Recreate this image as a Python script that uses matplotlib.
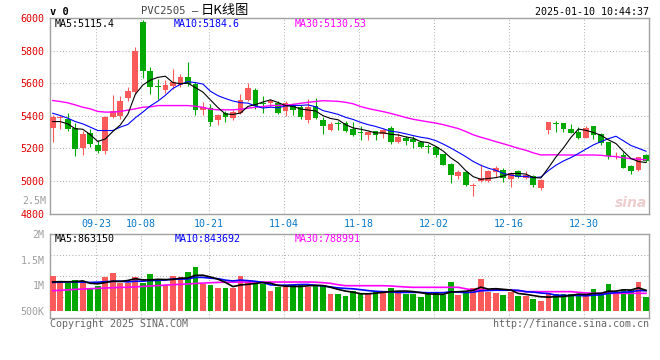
import numpy as np
import matplotlib
matplotlib.use('Agg')
import matplotlib.pyplot as plt

# 字体：等宽数字 + 中文回退
plt.rcParams['font.family'] = ['DejaVu Sans Mono', 'Noto Sans CJK SC']

tick_idx = [6, 12, 21, 31, 41, 51, 61, 71]
tick_lab = ['09-23', '10-08', '10-21', '11-04', '11-18', '12-02', '12-16', '12-30']

opens = [5325, 5385, 5382, 5325, 5202, 5294, 5219, 5184, 5392, 5398,
         5508, 5545, 5973, 5678, 5580, 5561, 5586, 5590, 5637, 5596,
         5437, 5447, 5372, 5420, 5384, 5416, 5498, 5559, 5478, 5478,
         5478, 5427, 5461, 5457, 5376, 5461, 5376, 5314, 5357, 5355,
         5322, 5302, 5283, 5308, 5287, 5324, 5240, 5267, 5256, 5240,
         5215, 5209, 5164, 5102, 5034, 5053, 4969, 4998, 4998, 5055,
         5068, 5015, 5062, 5021, 5031, 4955, 5314, 5355, 5359, 5320,
         5302, 5267, 5338, 5287, 5242, 5146, 5160, 5092, 5068, 5160]
highs = [5405, 5405, 5418, 5357, 5310, 5320, 5249, 5402, 5525, 5520,
         5576, 5825, 5986, 5698, 5627, 5617, 5688, 5657, 5729, 5606,
         5484, 5474, 5412, 5427, 5433, 5531, 5604, 5569, 5522, 5502,
         5490, 5488, 5478, 5467, 5506, 5508, 5396, 5365, 5369, 5371,
         5365, 5338, 5308, 5310, 5318, 5338, 5297, 5277, 5277, 5246,
         5226, 5215, 5164, 5108, 5071, 5061, 4988, 5102, 5065, 5092,
         5078, 5058, 5068, 5064, 5037, 5010, 5363, 5369, 5359, 5351,
         5334, 5338, 5338, 5297, 5242, 5181, 5181, 5096, 5150, 5166]
lows = [5240, 5320, 5310, 5153, 5157, 5208, 5174, 5168, 5388, 5382,
        5488, 5535, 5631, 5535, 5504, 5541, 5565, 5576, 5586, 5406,
        5406, 5335, 5341, 5365, 5372, 5412, 5488, 5441, 5420, 5457,
        5410, 5400, 5406, 5380, 5355, 5380, 5290, 5308, 5314, 5304,
        5277, 5252, 5252, 5252, 5262, 5226, 5232, 5219, 5205, 5205,
        5174, 5149, 5096, 4986, 5010, 4969, 4910, 4992, 4992, 5026,
        4996, 4965, 5017, 5010, 4961, 4945, 5287, 5304, 5304, 5297,
        5256, 5263, 5256, 5222, 5133, 5133, 5078, 5043, 5064, 5119]
closes = [5392, 5392, 5320, 5198, 5286, 5229, 5184, 5392, 5427, 5488,
          5555, 5800, 5674, 5576, 5574, 5592, 5606, 5637, 5596, 5433,
          5457, 5365, 5406, 5392, 5423, 5498, 5571, 5461, 5472, 5488,
          5416, 5478, 5437, 5392, 5457, 5386, 5335, 5351, 5351, 5308,
          5283, 5295, 5304, 5283, 5314, 5240, 5273, 5246, 5240, 5209,
          5211, 5160, 5098, 5036, 5053, 4973, 4973, 5018, 5061, 5081,
          5021, 5051, 5023, 5037, 4976, 5006, 5363, 5351, 5318, 5297,
          5267, 5324, 5283, 5236, 5154, 5154, 5082, 5064, 5146, 5123]

ma5 = [5365, 5365, 5351, 5321, 5318, 5285, 5243, 5258, 5304, 5344,
       5409, 5532, 5589, 5619, 5636, 5643, 5604, 5597, 5601, 5573,
       5546, 5498, 5451, 5411, 5409, 5417, 5458, 5469, 5485, 5498,
       5482, 5463, 5458, 5442, 5436, 5430, 5401, 5384, 5376, 5346,
       5326, 5318, 5308, 5295, 5296, 5287, 5283, 5271, 5263, 5242,
       5236, 5213, 5184, 5143, 5112, 5064, 5027, 5011, 5016, 5021,
       5031, 5046, 5047, 5043, 5022, 5019, 5081, 5147, 5203, 5267,
       5319, 5311, 5298, 5281, 5253, 5230, 5182, 5138, 5120, 5114]
ma10 = [5416, 5402, 5386, 5365, 5351, 5331, 5310, 5310, 5310, 5331,
        5347, 5388, 5423, 5461, 5490, 5526, 5568, 5593, 5610, 5604,
        5595, 5551, 5524, 5506, 5491, 5481, 5478, 5460, 5448, 5453,
        5449, 5461, 5464, 5464, 5467, 5456, 5432, 5421, 5409, 5391,
        5378, 5360, 5346, 5335, 5321, 5306, 5300, 5290, 5279, 5269,
        5262, 5248, 5227, 5203, 5177, 5150, 5120, 5097, 5079, 5066,
        5047, 5037, 5029, 5029, 5021, 5025, 5064, 5097, 5123, 5144,
        5169, 5196, 5222, 5242, 5260, 5275, 5247, 5218, 5201, 5183]
ma30 = [5494, 5488, 5480, 5467, 5453, 5443, 5427, 5423, 5423, 5427,
        5435, 5443, 5453, 5455, 5463, 5463, 5463, 5463, 5463, 5459,
        5452, 5441, 5437, 5437, 5437, 5441, 5447, 5453, 5457, 5463,
        5464, 5466, 5470, 5477, 5483, 5488, 5493, 5491, 5489, 5483,
        5474, 5457, 5445, 5435, 5426, 5415, 5403, 5390, 5379, 5371,
        5363, 5356, 5346, 5334, 5322, 5304, 5284, 5269, 5256, 5242,
        5229, 5215, 5201, 5189, 5173, 5160, 5161, 5161, 5160, 5160,
        5159, 5160, 5160, 5158, 5153, 5150, 5143, 5137, 5134, 5131]

# 成交量（千手）
vol = [1181, 1037, 1037, 1103, 1070, 939, 991, 1162, 1240, 1037,
       1037, 1162, 1050, 1227, 1103, 1011, 1181, 1162, 1260, 1358,
       1024, 1005, 946, 946, 946, 1181, 1070, 1037, 1024, 893,
       958, 1005, 998, 1024, 958, 998, 985, 828, 828, 788,
       886, 834, 821, 886, 880, 952, 880, 834, 834, 775,
       821, 860, 814, 1063, 808, 867, 952, 1122, 873, 847,
       808, 873, 788, 788, 729, 690, 841, 821, 821, 821,
       821, 795, 926, 847, 1024, 828, 926, 906, 1063, 775]
vol_ma5 = [1065, 1070, 1068, 1070, 1086, 1037, 1028, 1053, 1080, 1074,
           1093, 1128, 1105, 1103, 1116, 1111, 1114, 1137, 1143, 1194,
           1197, 1162, 1119, 1056, 973, 1005, 1018, 1036, 1052, 1041,
           996, 983, 976, 976, 989, 997, 993, 959, 919, 885,
           863, 833, 831, 843, 861, 875, 884, 886, 876, 855,
           829, 825, 821, 867, 873, 882, 901, 962, 924, 932,
           920, 905, 838, 821, 797, 774, 767, 774, 780, 799,
           825, 816, 837, 842, 883, 884, 910, 906, 949, 900]
vol_ma10 = [1056, 1060, 1065, 1065, 1060, 1055, 1060, 1070, 1075, 1080,
            1065, 1078, 1079, 1092, 1095, 1102, 1121, 1121, 1123, 1155,
            1154, 1138, 1128, 1100, 1084, 1101, 1090, 1077, 1054, 1007,
            1001, 1001, 1006, 1014, 1015, 997, 988, 967, 948, 937,
            930, 913, 895, 881, 873, 869, 858, 859, 860, 858,
            852, 854, 854, 871, 864, 856, 863, 892, 896, 903,
            901, 903, 900, 873, 865, 847, 836, 806, 801, 798,
            799, 792, 805, 811, 841, 855, 863, 872, 896, 891]
vol_ma30 = [893, 900, 910, 919, 925, 932, 939, 945, 952, 957,
            960, 968, 977, 985, 993, 1002, 1011, 1018, 1026, 1034,
            1042, 1050, 1055, 1058, 1060, 1063, 1063, 1063, 1063, 1063,
            1063, 1063, 1063, 1063, 1063, 1060, 1050, 1037, 1010, 991,
            991, 991, 991, 991, 991, 985, 975, 965, 959, 959,
            959, 959, 959, 959, 959, 930, 906, 906, 906, 906,
            906, 906, 890, 874, 874, 874, 874, 874, 874, 874,
            860, 850, 841, 841, 841, 841, 841, 841, 841, 841]

RED = '#fa5a5a'
GREEN = '#00a800'
GRID = '#b4b4b4'
SPINE = '#a0a0a0'
W, H = 660, 360

x = np.arange(len(closes))
o = np.array(opens); c = np.array(closes)
up = c >= o
cols = np.where(up, RED, GREEN)

fig = plt.figure(figsize=(6.6, 3.6), dpi=100)
ax = fig.add_axes([50 / W, 1 - 213.7 / H, 599 / W, 195.7 / H])
ax2 = fig.add_axes([50 / W, 1 - 318.3 / H, 599 / W, 84 / H])

def ftext(px, py, s, **kw):
    fig.text(px / W, 1 - py / H, s, **kw)

grid_x = [i - 0.25 for i in tick_idx]

# 主图：K线
body = np.abs(c - o)
body = np.where(body < 4, 4, body)
ax.vlines(x, lows, highs, colors=cols, lw=0.8, zorder=2)
ax.bar(x, body, bottom=np.minimum(o, c), width=0.76, color=cols, lw=0, zorder=3)
ax.plot(x, ma30, color='#ff00ff', lw=1.0, zorder=4)
ax.plot(x, ma10, color='#0000ff', lw=0.8, zorder=4)
ax.plot(x, ma5, color='black', lw=0.8, zorder=5)

ax.set_xlim(-0.36, 79.4)
ax.set_ylim(4800, 6000)
ax.set_yticks(range(4800, 6001, 200))
ax.set_xticks(grid_x)
ax.set_xticklabels(tick_lab)
ax.tick_params(axis='y', length=0, pad=4, labelsize=7.2, labelcolor='#e00000')
ax.tick_params(axis='x', length=0, pad=4, labelsize=7.2, labelcolor='#0a78c8')
ax.grid(True, color=GRID, ls=(0, (1, 2)), lw=0.75)
ax.set_axisbelow(True)

# 副图：成交量
ax2.bar(x, np.array(vol) - 500, bottom=500, width=0.76, color=cols, lw=0, zorder=3)
ax2.plot(x, vol_ma30, color='#ff00ff', lw=1.2, zorder=4)
ax2.plot(x, vol_ma10, color='#0000ff', lw=1.2, zorder=4)
ax2.plot(x, vol_ma5, color='black', lw=1.2, zorder=5)
ylo, yhi = 350.8, 2000
ax2.set_xlim(-0.36, 79.4)
ax2.set_ylim(ylo, yhi)
ax2.set_xticks(grid_x)
ax2.set_xticklabels([])
ax2.set_yticks([500, 1000, 1500, 2000])
ax2.set_yticklabels(['500K', '1M', '1.5M', '2M'])
ax2.tick_params(axis='y', length=0, pad=4, labelsize=7.2, labelcolor='#a0a0a0')
ax2.tick_params(axis='x', length=0)
ax2.grid(True, axis='x', color=GRID, ls=(0, (1, 2)), lw=0.75)
for f in (0.25, 0.5, 0.75):
    ax2.axhline(ylo + f * (yhi - ylo), color=GRID, ls=(0, (1, 2)), lw=0.75, zorder=1)
ax2.set_axisbelow(True)

for a in (ax, ax2):
    for s in a.spines.values():
        s.set_color(SPINE)
        s.set_linewidth(1.0)

# 文字
ftext(50, 11.7, 'v 0', fontsize=7.5, fontweight='bold', va='center', ha='left')
ftext(141, 10.5, 'PVC2505 –', fontsize=7.6, color='#444444', va='center', ha='left')
ftext(201, 10.5, '日K线图', fontsize=9.5, color='black', va='center', ha='left',
      family=['Noto Sans CJK SC', 'DejaVu Sans'])
ftext(649, 11.7, '2025-01-10 10:44:37', fontsize=7.2, va='center', ha='right')
ftext(55, 24, 'MA5:5115.4', fontsize=7.2, color='black', va='center')
ftext(174, 24, 'MA10:5184.6', fontsize=7.2, color='#0000ff', va='center')
ftext(295, 24, 'MA30:5130.53', fontsize=7.2, color='#ff00ff', va='center')
ftext(55, 238.5, 'MA5:863150', fontsize=7.2, color='black', va='center')
ftext(175, 238.5, 'MA10:843692', fontsize=7.2, color='#0000ff', va='center')
ftext(295, 238.5, 'MA30:788991', fontsize=7.2, color='#ff00ff', va='center')
ftext(46, 201, '2.5M', fontsize=7.2, color='#a0a0a0', va='center', ha='right')
ftext(50, 324, 'Copyright 2025 SINA.COM', fontsize=7.2, color='#666666', va='center')
ftext(649, 324, 'http://finance.sina.com.cn', fontsize=7.2, color='#666666', va='center', ha='right')
ftext(647, 203, 'sina', fontsize=10, fontstyle='italic', fontweight='bold',
      family='DejaVu Sans', color='#e6b8b8', alpha=0.7, va='center', ha='right')

fig.savefig('out.png', dpi=100)
